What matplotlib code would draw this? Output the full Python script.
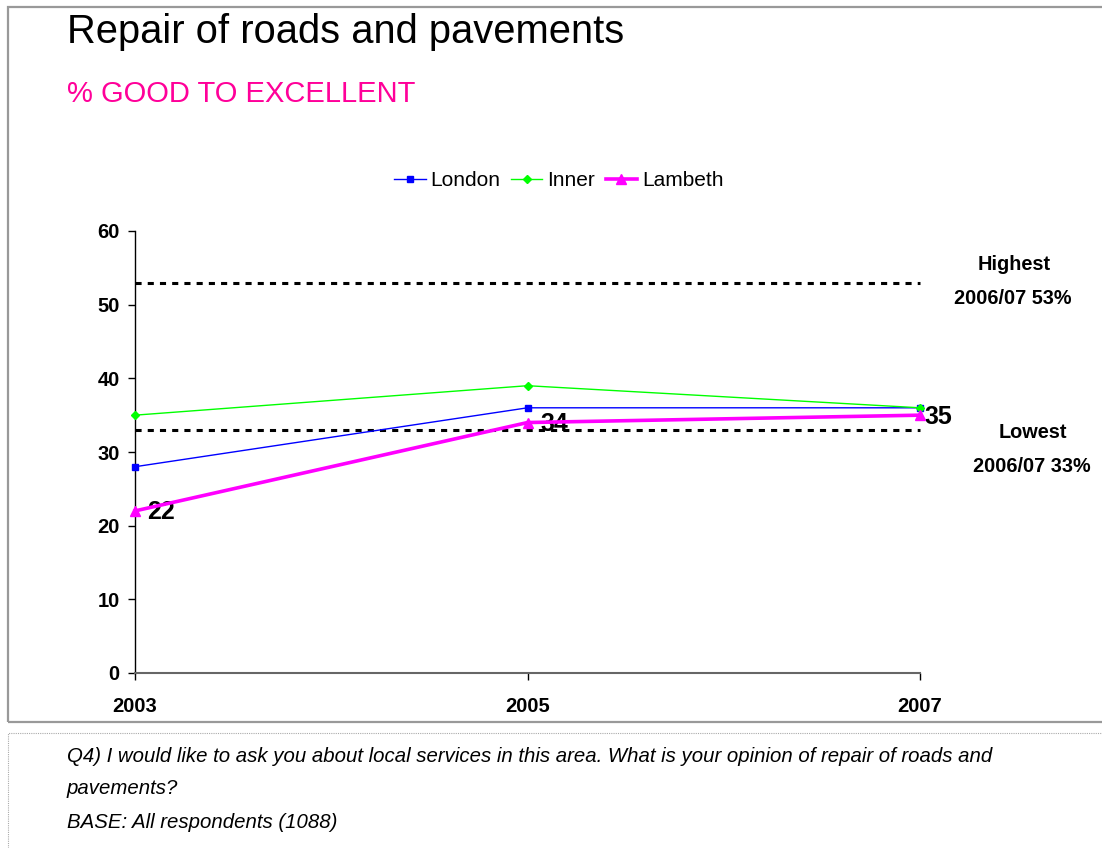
import matplotlib
matplotlib.use("Agg")
import matplotlib.pyplot as plt
from matplotlib.patches import Rectangle

plt.rcParams['font.family'] = ['Liberation Sans', 'DejaVu Sans']

# Survey results: % rating repair of roads and pavements good to excellent
years = ["2003", "2005", "2007"]
london = [28, 36, 36]
inner = [35, 39, 36]
lambeth = [22, 34, 35]
highest = 53
lowest = 33
y_ticks = [0, 10, 20, 30, 40, 50, 60]

W, H = 1102, 848
fig = plt.figure(figsize=(W / 100, H / 100), dpi=100)


def fx(px):
    return px / W


def fy(py):
    return 1 - py / H


# Outer chart frame and footnote box
fig.patches.append(Rectangle((fx(8), fy(722)), fx(1110) - fx(8), fy(7) - fy(722),
                             transform=fig.transFigure, fill=False,
                             edgecolor="#999999", lw=1.6))
fig.patches.append(Rectangle((fx(8), fy(860)), fx(1110) - fx(8), fy(733) - fy(860),
                             transform=fig.transFigure, fill=False,
                             edgecolor="#aaaaaa", lw=0.8, linestyle=(0, (1, 1))))

ax = fig.add_axes([fx(135), fy(673), fx(920) - fx(135), fy(231) - fy(673)])
x = list(range(len(years)))

ax.plot(x, london, color="#0000FF", lw=1.0, marker="s", ms=5, clip_on=False,
        label="London", zorder=3)
ax.plot(x, inner, color="#00FF00", lw=1.0, marker="D", ms=4, clip_on=False,
        label="Inner", zorder=3)
ax.plot(x, lambeth, color="#FF00FF", lw=2.6, marker="^", ms=7, clip_on=False,
        label="Lambeth", zorder=4)

# Highest / lowest reference lines
ax.plot([x[0], x[-1]], [highest, highest], color="black", lw=2.2,
        linestyle=(0, (2, 2)), clip_on=False, zorder=2)
ax.plot([x[0], x[-1]], [lowest, lowest], color="black", lw=2.2,
        linestyle=(0, (2, 2)), clip_on=False, zorder=2)

# Value labels for Lambeth
label_dx = [9, 9, 3]
for xi, v, dx in zip(x, lambeth, label_dx):
    ax.annotate(f"{v}", (xi, v), xytext=(dx, -1), textcoords="offset points",
                ha="left", va="center", fontsize=18, fontweight="bold")

ax.set_xlim(0, 2)
ax.set_ylim(0, 60)
ax.set_xticks(x)
ax.set_xticklabels(years, fontsize=14.5, fontweight="bold")
ax.set_yticks(y_ticks)
ax.set_yticklabels([str(t) for t in y_ticks], fontsize=14.5, fontweight="bold")
ax.tick_params(axis="y", direction="out", length=5, width=1, pad=6, color="black")
ax.tick_params(axis="x", direction="out", length=5, width=1, pad=12, color="black")
for s in ("top", "right"):
    ax.spines[s].set_visible(False)
ax.spines["left"].set_color("black")
ax.spines["left"].set_linewidth(1.0)
ax.spines["bottom"].set_color("#666666")
ax.spines["bottom"].set_linewidth(1.5)
ax.patch.set_alpha(0)

# Titles
fig.text(fx(67), fy(32), "Repair of roads and pavements", fontsize=28.7,
         ha="left", va="center", color="black")
fig.text(fx(67), fy(94), "% GOOD TO EXCELLENT", fontsize=21,
         ha="left", va="center", color="#FF0099")

# Legend
leg = fig.legend(loc="center", bbox_to_anchor=(fx(559), fy(181)), ncol=3,
                 frameon=False, fontsize=15, handlelength=1.5,
                 handletextpad=0.25, columnspacing=0.5, borderpad=0)

# Range annotations
fig.text(fx(1014), fy(265), "Highest", fontsize=14.3, fontweight="bold",
         ha="center", va="center")
fig.text(fx(1013), fy(299), "2006/07 53%", fontsize=14.3, fontweight="bold",
         ha="center", va="center")
fig.text(fx(1033), fy(433), "Lowest", fontsize=14.3, fontweight="bold",
         ha="center", va="center")
fig.text(fx(1032), fy(467), "2006/07 33%", fontsize=14.3, fontweight="bold",
         ha="center", va="center")

# Footnote
foot = [
    "Q4) I would like to ask you about local services in this area. What is your opinion of repair of roads and",
    "pavements?",
    "BASE: All respondents (1088)",
]
for i, line in enumerate(foot):
    fig.text(fx(67), fy(756 + 33 * i), line, fontsize=14.65, style="italic",
             ha="left", va="center")

fig.savefig("out.png", dpi=100)
